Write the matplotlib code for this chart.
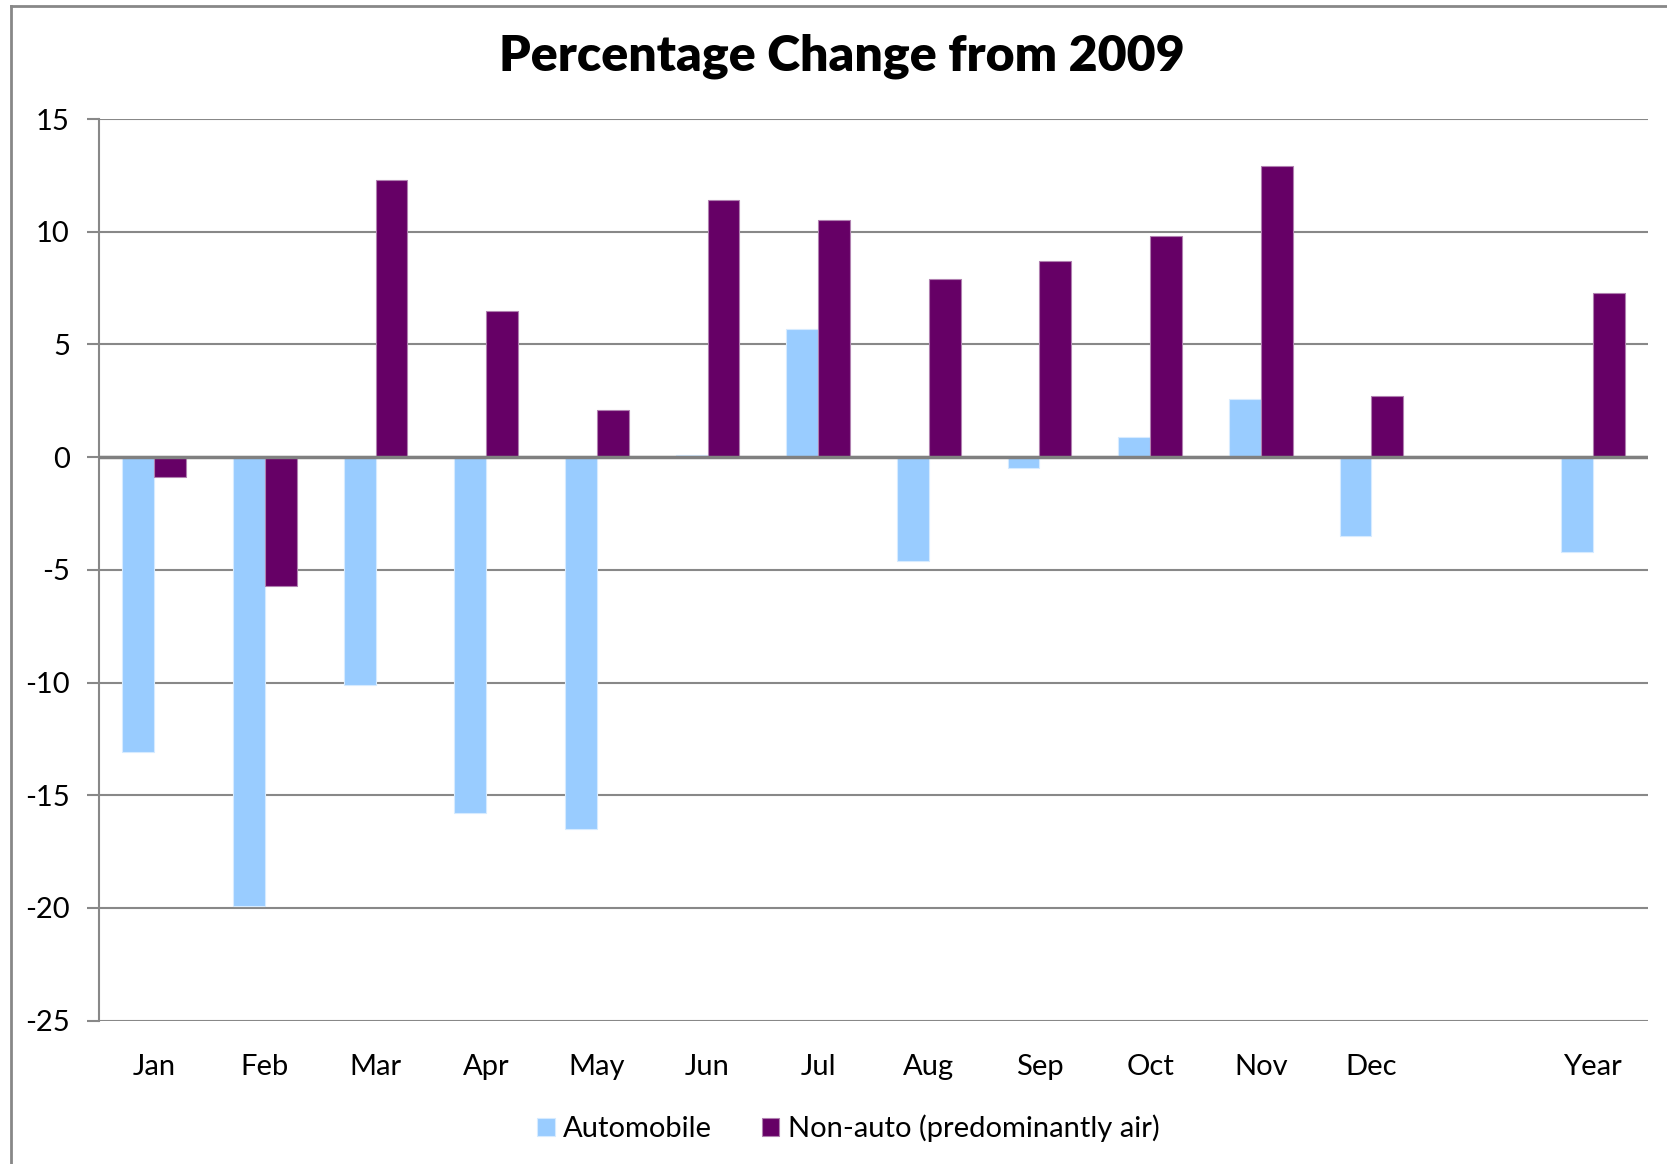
import matplotlib.pyplot as plt
import numpy as np
from matplotlib.lines import Line2D

months = ['Jan', 'Feb', 'Mar', 'Apr', 'May', 'Jun', 'Jul', 'Aug', 'Sep',
          'Oct', 'Nov', 'Dec', '', 'Year']
automobile = [-13.1, -19.9, -10.1, -15.8, -16.5, 0.1, 5.7, -4.6, -0.5,
              0.9, 2.6, -3.5, np.nan, -4.2]
non_auto = [-0.9, -5.7, 12.3, 6.5, 2.1, 11.4, 10.5, 7.9, 8.7,
            9.8, 12.9, 2.7, np.nan, 7.3]

plt.rcParams['font.family'] = ['Lato', 'DejaVu Sans']
plt.rcParams['axes.unicode_minus'] = False

fig = plt.figure(figsize=(16.67, 11.64), dpi=100)
ax = fig.add_axes([0.0594, 0.1232, 0.9292, 0.7745])

x = np.arange(len(months))
width = 0.288  # the width of the bars

ax.bar(x - width/2, automobile, width, color='#99CCFF', edgecolor='#d6ebff',
       linewidth=0.8, zorder=2, label='Automobile')
ax.bar(x + width/2, non_auto, width, color='#660066', edgecolor='#b080b0',
       linewidth=0.8, zorder=2, label='Non-auto (predominantly air)')

ax.set_xlim(-0.5, len(months) - 0.5)
ax.set_ylim(-25, 15)
ax.set_yticks(np.arange(-25, 16, 5))
ax.yaxis.grid(True, color='#888888', linewidth=1.5, zorder=1)
ax.axhline(0, color='#808080', linewidth=2.5, zorder=3)

for side in ['top', 'right', 'bottom']:
    ax.spines[side].set_visible(False)
ax.spines['left'].set_color('#888888')
ax.spines['left'].set_linewidth(1.5)

ax.set_xticks(x)
ax.set_xticklabels(months)
ax.tick_params(axis='x', length=0, pad=24, labelsize=21)
ax.tick_params(axis='y', length=9, width=1.5, color='#888888', pad=12,
               labelsize=21)

fig.suptitle('Percentage Change from 2009', fontsize=36, fontweight='heavy',
             x=0.505, y=0.952, va='center')

leg = fig.legend(loc='lower center', bbox_to_anchor=(0.509, -0.004), ncol=2,
                 frameon=False, fontsize=21, handlelength=0.6,
                 handleheight=0.6, handletextpad=0.3, columnspacing=1.7)

# outer chart border (left and top edges)
fig.add_artist(Line2D([0.0066, 0.0066], [0, 0.9948], color='#888888',
                      linewidth=2, transform=fig.transFigure))
fig.add_artist(Line2D([0.0066, 1.0], [0.9948, 0.9948], color='#888888',
                      linewidth=2, transform=fig.transFigure))

plt.savefig('out.png', dpi=100)
